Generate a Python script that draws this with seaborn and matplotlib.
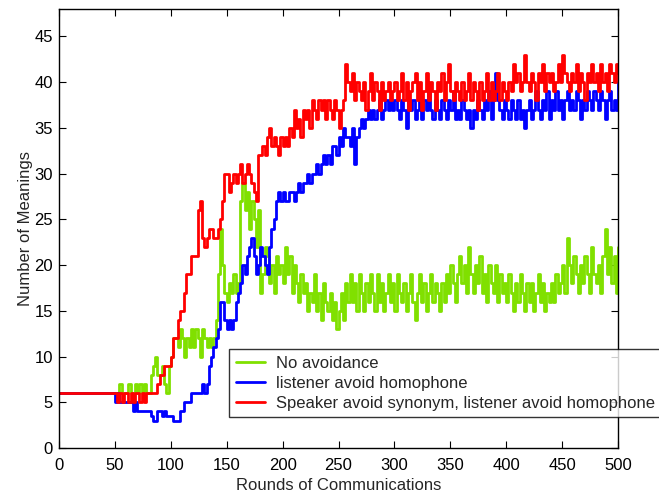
import numpy as np
import pandas as pd
import matplotlib
matplotlib.use("Agg")
import matplotlib.pyplot as plt
import seaborn as sns

rounds = list(range(0, 501, 2))

no_avoid = [
    6, 6, 6, 6, 6, 6, 6, 6, 6, 6,
    6, 6, 6, 6, 6, 6, 6, 6, 6, 6,
    6, 6, 6, 6, 6, 6, 6, 7, 6, 6,
    6, 7, 6, 6, 7, 6, 7, 6, 7, 6,
    6, 8, 9, 10, 8, 8, 9, 7, 6, 9,
    10, 12, 12, 11, 13, 12, 10, 12, 11, 13,
    11, 13, 12, 10, 13, 12, 11, 12, 11, 12,
    14, 19, 24, 20, 17, 16, 18, 17, 19, 17,
    18, 27, 29, 26, 28, 24, 27, 25, 22, 26,
    17, 19, 22, 21, 18, 20, 17, 21, 19, 20,
    18, 22, 19, 21, 17, 20, 18, 16, 19, 17,
    18, 15, 17, 16, 19, 15, 17, 14, 18, 16,
    15, 17, 14, 16, 13, 15, 17, 14, 18, 16,
    19, 16, 18, 15, 19, 17, 15, 18, 16, 19,
    17, 15, 19, 16, 18, 15, 17, 19, 16, 18,
    15, 19, 17, 16, 18, 15, 17, 19, 16, 14,
    17, 19, 16, 18, 15, 17, 19, 16, 18, 17,
    15, 18, 16, 19, 17, 20, 18, 16, 19, 21,
    18, 20, 17, 22, 19, 17, 20, 18, 21, 17,
    19, 16, 20, 18, 17, 20, 16, 19, 17, 18,
    16, 19, 17, 15, 18, 16, 19, 17, 15, 18,
    16, 18, 15, 17, 19, 16, 18, 15, 17, 16,
    18, 16, 19, 17, 18, 20, 17, 23, 20, 18,
    21, 19, 17, 20, 18, 21, 19, 17, 22, 19,
    18, 20, 17, 21, 24, 19, 22, 18, 21, 17,
    22]

listener = [
    6, 6, 6, 6, 6, 6, 6, 6, 6, 6,
    6, 6, 6, 6, 6, 6, 6, 6, 6, 6,
    6, 6, 6, 6, 6, 5, 6, 5, 5, 5,
    5, 5, 5, 4, 5, 4, 4, 4, 4, 4,
    4, 3.5, 3, 3, 4, 4, 3.5, 4, 3.5, 3.5,
    3.5, 3, 3, 3, 4, 4, 5, 5, 5, 6,
    6, 6, 6, 6, 7, 6, 7, 9, 10, 11,
    12, 13, 16, 16, 14, 13, 14, 13, 14, 16,
    17, 18, 20, 19, 21, 22, 23, 21, 19, 20,
    22, 21, 20, 19, 22, 24, 25, 27, 28, 27,
    28, 27, 27, 28, 28, 27, 28, 29, 28, 29,
    29, 30, 29, 30, 30, 31, 30, 31, 32, 31,
    32, 31, 33, 33, 32, 34, 33, 35, 34, 34,
    33, 35, 31, 34, 35, 36, 35, 36, 37, 36,
    37, 36, 37, 38, 36, 37, 38, 37, 38, 37,
    38, 37, 36, 38, 37, 35, 38, 37, 38, 36,
    37, 38, 36, 38, 37, 39, 37, 36, 38, 37,
    36, 38, 37, 36, 38, 37, 39, 36, 37, 36,
    38, 37, 36, 37, 35, 37, 36, 38, 37, 36,
    38, 37, 39, 36, 38, 41, 38, 37, 36, 38,
    37, 36, 38, 37, 36, 38, 36, 37, 35, 37,
    38, 36, 37, 39, 37, 36, 38, 37, 39, 36,
    38, 37, 39, 37, 38, 36, 38, 39, 37, 38,
    37, 39, 38, 36, 38, 37, 39, 38, 37, 39,
    38, 37, 39, 38, 36, 38, 39, 37, 38, 37,
    40]

speaker_listener = [
    6, 6, 6, 6, 6, 6, 6, 6, 6, 6,
    6, 6, 6, 6, 6, 6, 6, 6, 6, 6,
    6, 6, 6, 6, 6, 6, 5, 6, 5, 6,
    6, 5, 6, 5, 6, 6, 5, 6, 5, 6,
    6, 6, 6, 6, 7, 8, 8, 9, 9, 9,
    10, 12, 12, 14, 15, 15, 17, 19, 19, 21,
    21, 21, 26, 27, 23, 22, 23, 24, 24, 23,
    23, 24, 25, 27, 30, 30, 28, 29, 30, 29,
    30, 31, 29, 30, 31, 30, 29, 28, 27, 32,
    32, 33, 32, 34, 35, 33, 34, 33, 32, 34,
    33, 34, 33, 35, 34, 37, 35, 36, 34, 37,
    36, 37, 35, 38, 37, 36, 38, 37, 38, 36,
    38, 37, 36, 38, 37, 35, 37, 38, 42, 40,
    39, 41, 38, 40, 39, 38, 40, 37, 39, 41,
    38, 40, 39, 37, 40, 38, 39, 40, 38, 39,
    40, 38, 39, 41, 38, 40, 37, 39, 40, 41,
    38, 40, 37, 39, 41, 38, 40, 39, 37, 40,
    39, 41, 38, 40, 42, 39, 38, 40, 39, 38,
    40, 38, 39, 41, 38, 40, 39, 37, 40, 38,
    39, 41, 38, 40, 38, 39, 41, 38, 40, 39,
    38, 40, 39, 42, 40, 41, 39, 40, 43, 40,
    39, 41, 40, 38, 41, 40, 42, 39, 41, 40,
    41, 39, 40, 42, 40, 43, 41, 40, 39, 41,
    40, 42, 39, 41, 40, 38, 41, 40, 42, 40,
    41, 39, 42, 40, 41, 39, 42, 41, 40, 42,
    41]

labels = ["No avoidance",
          "listener avoid homophone",
          "Speaker avoid synonym, listener avoid homophone"]
colors = ["#80E000", "#0000FF", "#FF0000"]

df = pd.concat([
    pd.DataFrame({"Rounds": rounds, "Meanings": vals, "Series": lab})
    for vals, lab in zip([no_avoid, listener, speaker_listener], labels)
], ignore_index=True)

sns.set_theme(style="white")
plt.rcParams["font.family"] = ["Liberation Sans", "DejaVu Sans"]

fig = plt.figure(figsize=(6.59, 4.92), dpi=100)
ax = fig.add_axes([59 / 659, 44 / 492, (618 - 59) / 659, (448 - 9) / 492])

sns.lineplot(data=df, x="Rounds", y="Meanings", hue="Series",
             palette=dict(zip(labels, colors)), hue_order=labels,
             drawstyle="steps-post", linewidth=2.0, ax=ax, legend=False)

ax.set_xlim(0, 500)
ax.set_ylim(0, 48)
ax.set_xticks(range(0, 501, 50))
ax.set_yticks(range(0, 46, 5))
ax.tick_params(direction="in", length=5, width=0.8, labelsize=12,
               top=True, right=True, bottom=True, left=True,
               colors="black")
ax.tick_params(axis="x", pad=7)
ax.tick_params(axis="y", pad=4.5)
ax.set_xlabel("Rounds of Communications", fontsize=12, labelpad=4)
ax.set_ylabel("Number of Meanings", fontsize=12, labelpad=1)
for s in ax.spines.values():
    s.set_color("black")
    s.set_linewidth(1.0)

handles = [plt.Line2D([], [], color=c, linewidth=2.0) for c in colors]
leg = ax.legend(handles, labels, loc="upper left",
                bbox_to_anchor=(229 / 659, 1 - 349 / 492),
                bbox_transform=fig.transFigure, frameon=True, fancybox=False,
                fontsize=12, handlelength=1.75, handletextpad=0.65,
                borderpad=0.4, labelspacing=0.3, borderaxespad=0)
leg.get_frame().set_edgecolor("black")
leg.get_frame().set_linewidth(1.0)

fig.savefig("out.png", dpi=100)
